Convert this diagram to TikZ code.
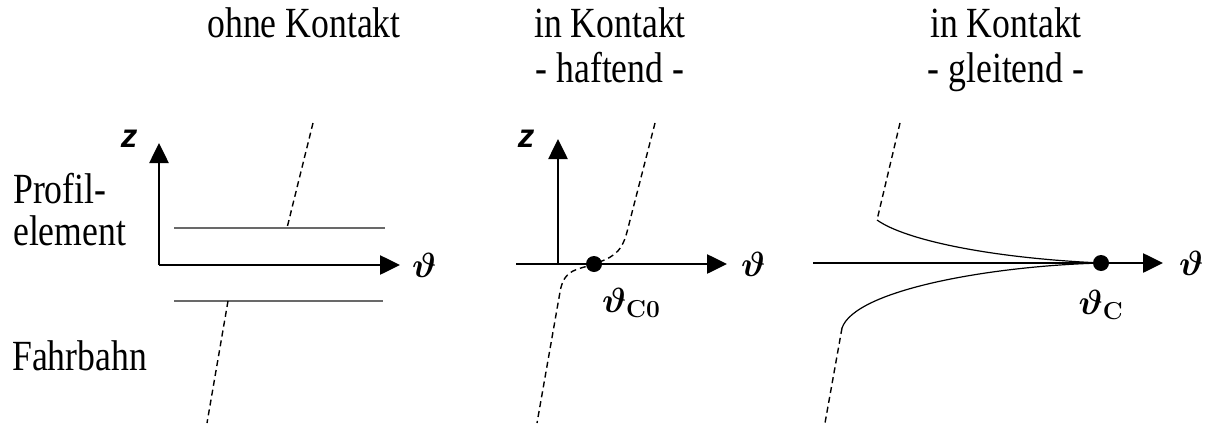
\RequirePackage{fix-cm}
\documentclass[tikz,border=0pt]{standalone}
\usepackage[no-math]{fontspec}
\setmainfont{Liberation Serif}[FakeStretch=0.83]
\newfontfamily\zfont{Liberation Sans}
\usepackage{xcolor}
\usetikzlibrary{arrows.meta, positioning}
\definecolor{linegray}{RGB}{105, 105, 105}

\begin{document}
\begin{tikzpicture}[x=1pt, y=-1pt]
    \tikzstyle{ttl}   = [anchor=base, inner sep=0pt, font=\fontsize{43}{45}\selectfont]
    \tikzstyle{side}  = [anchor=base west, inner sep=0pt, font=\fontsize{43}{45}\selectfont]
    \tikzstyle{axis}  = [-{Triangle[length=20pt, width=19pt]}, line width=2.6pt]
    \tikzstyle{lbl}   = [inner sep=0pt, font=\fontsize{35}{40}\selectfont\boldmath]
    \tikzstyle{zlbl}  = [inner sep=0pt, font=\zfont\itshape\bfseries\fontsize{33}{36}\selectfont]
    \tikzstyle{trace} = [dash pattern=on 6pt off 4pt, line width=1.4pt]
    \tikzstyle{dot}   = [circle, fill=black, inner sep=0pt, minimum size=16pt]

    \useasboundingbox (0,0) rectangle (1209,423);

    %% ── Titles ─────────────────────────────────────────────────────────────
    \node[ttl] (t1)  at (304,37)  {ohne Kontakt};
    \node[ttl] (t2a) at (610,37)  {in Kontakt};
    \node[ttl] (t2b) at (610,82)  {- haftend -};
    \node[ttl] (t3a) at (1006,37) {in Kontakt};
    \node[ttl] (t3b) at (1006,82) {- gleitend -};

    %% ── Side labels ────────────────────────────────────────────────────────
    \node[side] (prof) at (13,203) {Profil-};
    \node[side] (elem) at (13,245) {element};
    \node[side] (fahr) at (12,370) {Fahrbahn};

    %% ── Panel 1: ohne Kontakt ──────────────────────────────────────────────
    \coordinate (o1) at (159,265);
    \coordinate (x1) at (400,265);
    \coordinate (z1) at (159,143);
    \draw[axis] (o1) -- (x1);
    \draw[axis] (o1) -- (z1);
    \node[lbl, right=12pt of x1] (th1) {$\vartheta$};
    \node[zlbl] (zl1) at (129,139) {z};

    \coordinate (pa) at (174,228);
    \coordinate (pb) at (385,228);
    \coordinate (fa) at (174,301);
    \coordinate (fb) at (383,301);
    \draw[linegray, line width=1.5pt] (pa) -- (pb);
    \draw[linegray, line width=1.5pt] (fa) -- (fb);

    \coordinate (p1top) at (313,123);
    \coordinate (p1hit) at (287,228);
    \coordinate (f1hit) at (228,301);
    \coordinate (f1bot) at (207,423);
    \draw[trace] (p1top) -- (p1hit);
    \draw[trace] (f1hit) -- (f1bot);

    %% ── Panel 2: haftend ───────────────────────────────────────────────────
    \coordinate (s2) at (516,264);
    \coordinate (o2) at (558,264);
    \coordinate (x2) at (727,264);
    \coordinate (z2) at (558,139);
    \draw[axis] (s2) -- (x2);
    \draw[axis] (o2) -- (z2);
    \node[lbl, right=14pt of x2] (th2) {$\vartheta$};
    \node[zlbl] (zl2) at (526,139) {z};

    \node[dot] (dotc0) at (594,264) {};
    \node[lbl, below right=18pt and 2pt of dotc0] (thc0) {$\vartheta_{\mathbf{C0}}$};

    \coordinate (h2top) at (655,123);
    \coordinate (h2up)  at (627,232);
    \coordinate (h2lo)  at (560,292);
    \coordinate (h2bot) at (537,423);
    \draw[trace] (h2top) -- (h2up)
        .. controls (621,255) and (610,258) .. (dotc0.center)
        .. controls (578,270) and (564,268) .. (h2lo) -- (h2bot);

    %% ── Panel 3: gleitend ──────────────────────────────────────────────────
    \coordinate (s3) at (813,263);
    \coordinate (x3) at (1163,263);
    \draw[axis] (s3) -- (x3);
    \node[lbl, right=16pt of x3] (th3) {$\vartheta$};

    \node[dot] (dotc) at (1101,263) {};
    \node[lbl, below=19pt of dotc] (thc) {$\vartheta_{\mathrm{C}}$};

    \coordinate (g3top) at (900,123);
    \coordinate (g3up)  at (877,220);
    \coordinate (g3lo)  at (842,328);
    \coordinate (g3bot) at (825,423);
    \draw[trace] (g3top) -- (g3up);
    \draw[line width=1.2pt] (g3up) .. controls (905,240) and (990,258) .. (dotc.center);
    \draw[line width=1.2pt] (dotc.center) .. controls (990,266) and (855,290) .. (g3lo);
    \draw[trace] (g3lo) -- (g3bot);
\end{tikzpicture}
\end{document}
